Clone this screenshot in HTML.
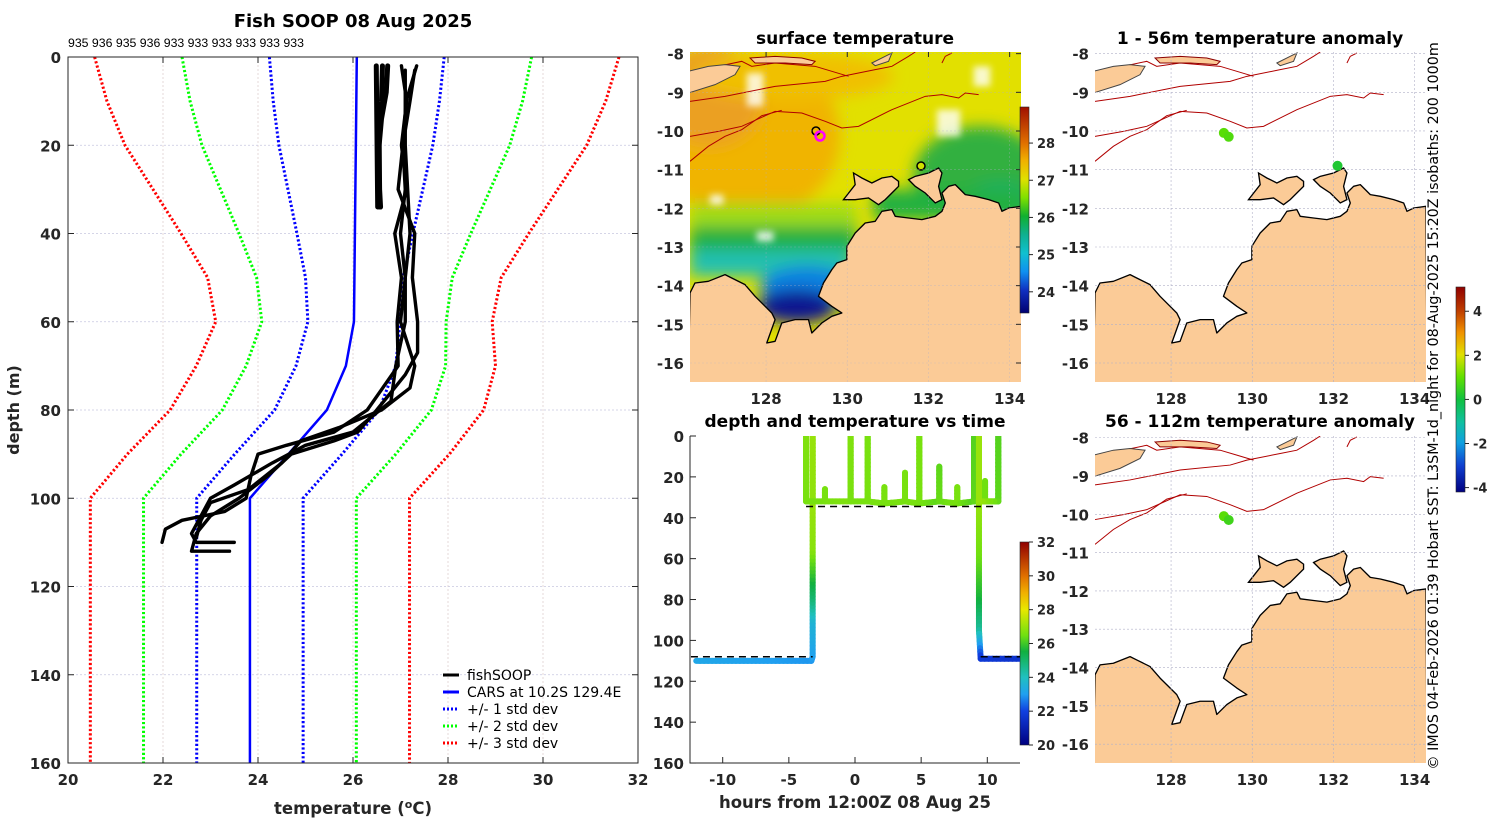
<!DOCTYPE html>
<html><head><meta charset="utf-8"><title>Fish SOOP 08 Aug 2025</title>
<style>
html,body{margin:0;padding:0;background:#fff;}
svg{display:block;font-family:"DejaVu Sans","Liberation Sans",sans-serif;}
.tk{font-size:15px;font-weight:bold;fill:#262626;}
.ttl{font-size:17px;font-weight:bold;fill:#000;}
.lg{font-size:14px;fill:#000;}
</style></head>
<body>
<svg id="fig" width="1500" height="820" viewBox="0 0 1500 820" xmlns="http://www.w3.org/2000/svg">
<defs>
 <filter id="blur" x="-20%" y="-20%" width="140%" height="140%"><feGaussianBlur stdDeviation="22"/></filter>
 <filter id="blur2" x="-20%" y="-20%" width="140%" height="140%"><feGaussianBlur stdDeviation="10"/></filter>
 <linearGradient id="cbSST" x1="0" y1="0" x2="0" y2="1">
  <stop offset="0" stop-color="#a01000"/><stop offset="0.175" stop-color="#e07000"/><stop offset="0.26" stop-color="#f0b000"/>
  <stop offset="0.35" stop-color="#e0e000"/><stop offset="0.44" stop-color="#80e000"/><stop offset="0.53" stop-color="#10b030"/>
  <stop offset="0.62" stop-color="#10b090"/><stop offset="0.71" stop-color="#10c0d0"/><stop offset="0.8" stop-color="#1090f0"/>
  <stop offset="0.89" stop-color="#1030c0"/><stop offset="1" stop-color="#000070"/>
 </linearGradient>
 <linearGradient id="cbT" x1="0" y1="0" x2="0" y2="1">
  <stop offset="0" stop-color="#900000"/><stop offset="0.167" stop-color="#e07000"/><stop offset="0.25" stop-color="#f0b000"/>
  <stop offset="0.333" stop-color="#e8e800"/><stop offset="0.46" stop-color="#70e010"/><stop offset="0.54" stop-color="#10b040"/>
  <stop offset="0.667" stop-color="#20c0c0"/><stop offset="0.75" stop-color="#20a0f0"/><stop offset="0.833" stop-color="#1040e0"/>
  <stop offset="1" stop-color="#000080"/>
 </linearGradient>
 <linearGradient id="cbA" x1="0" y1="0" x2="0" y2="1">
  <stop offset="0" stop-color="#900000"/><stop offset="0.12" stop-color="#c04000"/><stop offset="0.22" stop-color="#f09000"/>
  <stop offset="0.33" stop-color="#e0e000"/><stop offset="0.44" stop-color="#60e000"/><stop offset="0.55" stop-color="#10c040"/>
  <stop offset="0.66" stop-color="#10c0a0"/><stop offset="0.76" stop-color="#10a0e0"/><stop offset="0.87" stop-color="#1040d0"/>
  <stop offset="1" stop-color="#000080"/>
 </linearGradient>
 <clipPath id="clipL"><rect x="68" y="57" width="570" height="706"/></clipPath>
 <clipPath id="clipT"><rect x="690" y="436" width="330" height="327"/></clipPath>
 <clipPath id="mapclip"><rect x="45" y="67" width="992" height="990"/></clipPath>
 <g id="landShape">
  <path fill="#fbcb97" stroke="#000" stroke-width="4" stroke-linejoin="round" d="M45,790 L60,760 L100,755 L150,735 L170,745 L210,765 L240,800 L270,830 L290,850 L300,870 L275,940 L300,935 L320,880 L360,870 L400,870 L410,910 L440,880 L470,860 L500,850 L470,830 L430,800 L445,760 L470,720 L485,700 L515,690 L515,650 L540,610 L570,580 L600,575 L620,545 L650,540 L660,560 L700,565 L740,570 L780,560 L800,545 L810,520 L800,490 L820,470 L840,465 L870,495 L900,500 L940,510 L970,520 L980,545 L1000,535 L1037,530 L1040,1060 L40,1060 Z"/>
  <path fill="#fbcb97" stroke="#000" stroke-width="4" d="M505,510 L540,465 L535,430 L560,445 L590,460 L620,445 L650,440 L670,455 L670,470 L630,510 L610,525 L580,505 L540,510 Z"/>
  <path fill="#fbcb97" stroke="#000" stroke-width="4" d="M700,450 L720,440 L760,430 L790,415 L800,430 L790,470 L800,510 L780,520 L750,490 L720,470 Z"/>
  <path fill="#fbcb97" stroke="#444" stroke-width="3" d="M40,125 L100,110 L150,105 L195,110 L180,135 L120,165 L40,190 Z"/>
  <path fill="#fbcb97" stroke="#8b0000" stroke-width="3" d="M225,85 L300,80 L380,85 L420,95 L410,105 L330,100 L240,100 Z"/>
  <path fill="#fbcb97" stroke="#444" stroke-width="3" d="M590,100 L630,80 L650,70 L640,95 L600,108 Z"/>
 </g>
 <g id="isobaths" fill="none" stroke="#b00000" stroke-width="3">
  <path d="M45,215 L150,200 L300,170 L450,155 L500,140 L600,120 L650,110 L700,80 L720,67"/>
  <path d="M45,320 L130,305 L200,290 L300,245 L380,250 L450,275 L500,295 L550,290 L650,240 L750,200 L800,195 L850,205 L870,190 L910,195"/>
  <path d="M45,395 L100,350 L150,320 L200,300 L260,258 L320,242"/>
  <path d="M45,130 L120,112 L200,95 L230,110 L300,100 L420,110 L470,125 L520,140"/>
  <path d="M800,100 L810,80 L830,70"/>
 </g>
</defs>

<g id="leftPlot">
 <text class="ttl" x="353" y="27" text-anchor="middle" style="font-size:18px">Fish SOOP 08 Aug 2025</text>
 <text x="68" y="47" style="font-size:12.3px;font-family:'Liberation Sans',sans-serif" fill="#000">935 936 935 936 933 933 933 933 933 933</text>
 <g id="lGrid"></g>
 <g id="lSeries" clip-path="url(#clipL)"></g>
 <rect x="68" y="57" width="570" height="706" fill="none" stroke="#262626" stroke-width="1"/>
 <g id="lTicks"></g>
 <text class="tk" x="353" y="814" text-anchor="middle" style="font-size:16.5px">temperature (<tspan dy="-6" style="font-size:11px">o</tspan><tspan dy="6">C)</tspan></text>
 <text class="tk" transform="translate(19,410) rotate(-90)" text-anchor="middle" style="font-size:16px">depth (m)</text>
 <g>
  <line x1="443" y1="675" x2="459" y2="675" stroke="#000" stroke-width="3"/>
  <text class="lg" x="467" y="680">fishSOOP</text>
  <line x1="443" y1="692" x2="459" y2="692" stroke="#0000ff" stroke-width="3"/>
  <text class="lg" x="467" y="697">CARS at 10.2S 129.4E</text>
  <line x1="443" y1="709" x2="459" y2="709" stroke="#0000ff" stroke-width="3" stroke-dasharray="2,2"/>
  <text class="lg" x="467" y="714">+/- 1 std dev</text>
  <line x1="443" y1="726" x2="459" y2="726" stroke="#00ff00" stroke-width="3" stroke-dasharray="2,2"/>
  <text class="lg" x="467" y="731">+/- 2 std dev</text>
  <line x1="443" y1="743" x2="459" y2="743" stroke="#ff0000" stroke-width="3" stroke-dasharray="2,2"/>
  <text class="lg" x="467" y="748">+/- 3 std dev</text>
 </g>
</g>

<text class="ttl" x="855" y="44" text-anchor="middle">surface temperature</text>
<text class="ttl" x="1260" y="44" text-anchor="middle">1 - 56m temperature anomaly</text>
<text class="ttl" x="1260" y="427" text-anchor="middle">56 - 112m temperature anomaly</text>
<text class="ttl" x="855" y="427" text-anchor="middle">depth and temperature vs time</text>

<g id="mapSST">
 <g transform="translate(690,52) scale(0.3337,0.3333) translate(-45,-67)">
  <g clip-path="url(#mapclip)">
   <rect x="45" y="67" width="992" height="990" fill="#e2e000"/>
   <g filter="url(#blur)" transform="translate(-45,0)">
    <ellipse cx="260" cy="320" rx="280" ry="250" fill="#f0b400"/>
    <ellipse cx="150" cy="200" rx="160" ry="150" fill="#eba020"/>
    <ellipse cx="400" cy="140" rx="300" ry="70" fill="#f0c000"/>
    <ellipse cx="960" cy="440" rx="200" ry="150" fill="#30b040"/>
    <ellipse cx="1020" cy="520" rx="120" ry="60" fill="#10b070"/>
    <rect x="640" y="480" width="460" height="90" fill="#20b040"/>
    <rect x="90" y="520" width="500" height="90" fill="#a0dc18"/>
    <rect x="90" y="590" width="500" height="90" fill="#20b040"/>
    <rect x="90" y="660" width="480" height="80" fill="#20c0b0"/>
    <ellipse cx="440" cy="770" rx="140" ry="60" fill="#1080e0"/>
    <ellipse cx="410" cy="830" rx="120" ry="50" fill="#101890"/>
   </g>
   <g fill="#ffffff" filter="url(#blur2)" opacity="0.8" transform="translate(-45,0)">
    <rect x="260" y="130" width="50" height="100"/><rect x="830" y="240" width="70" height="80"/>
    <rect x="940" y="110" width="50" height="60"/><rect x="150" y="495" width="40" height="30"/>
    <rect x="290" y="605" width="50" height="30"/>
   </g>
   <use href="#isobaths"/>
   <use href="#landShape"/>
  </g>
 </g>
 <circle cx="816" cy="131" r="4" fill="none" stroke="#000" stroke-width="1.5"/>
 <circle cx="820" cy="136" r="4.5" fill="none" stroke="#ff00ff" stroke-width="2.5"/>
 <circle cx="921" cy="166" r="4" fill="#d0e000" stroke="#000" stroke-width="1.5"/>
</g>

<g id="mapA1">
 <g transform="translate(1095,52) scale(0.3337,0.3333) translate(-45,-67)">
  <g clip-path="url(#mapclip)">
   <rect x="45" y="67" width="992" height="990" fill="#fff"/>
   <use href="#isobaths"/>
   <use href="#landShape"/>
  </g>
 </g>
</g>
<g id="mapA2">
 <g transform="translate(1095,436) scale(0.3337,0.3303) translate(-45,-67)">
  <g clip-path="url(#mapclip)">
   <rect x="45" y="67" width="992" height="990" fill="#fff"/>
   <use href="#isobaths"/>
   <use href="#landShape"/>
  </g>
 </g>
</g>
<g id="mapOverlays"></g>

<rect x="1020" y="107" width="9" height="206" fill="url(#cbSST)" stroke="#262626" stroke-width="0.6"/>
<rect x="1020" y="542" width="9" height="203" fill="url(#cbT)" stroke="#262626" stroke-width="0.6"/>
<rect x="1456" y="287" width="9" height="205" fill="url(#cbA)" stroke="#262626" stroke-width="0.6"/>
<g id="cbTicks"></g>

<g id="tsPlot">
 <g id="tsSeries" clip-path="url(#clipT)"></g>
 <path d="M690,436 V763 H1020" fill="none" stroke="#262626" stroke-width="1"/>
 <g id="tsTicks"></g>
 <text class="tk" x="855" y="808" text-anchor="middle" style="font-size:16.5px">hours from 12:00Z 08 Aug 25</text>
</g>

<text transform="translate(1438,406) rotate(-90)" text-anchor="middle" style="font-size:14.3px" fill="#000">© IMOS 04-Feb-2026 01:39 Hobart SST: L3SM-1d_night for 08-Aug-2025 15:20Z isobaths: 200  1000m</text>
</svg>

<script>
const carsDepths = [0,10,20,30,40,50,60,70,80,90,100,160];
const carsMean   = [26.08,26.07,26.06,26.05,26.04,26.03,26.02,25.85,25.45,24.64,23.83,23.83];
const carsStd    = [1.84,1.75,1.62,1.42,1.22,1.03,0.97,1.05,1.1,1.13,1.12,1.12];
const stdMultipliers = [1,2,3];
const stdColors = ['#0000ff','#00ff00','#ff0000'];
const tempTicks = [20,22,24,26,28,30,32];
const depthTicks = [0,20,40,60,80,100,120,140,160];
const shallowDepths = [[2,34],[2,10,15,34],[2,8,14,20,30,34]];
const shallowTemps  = [[26.49,26.52],[26.62,26.6,26.55,26.55],[26.73,26.7,26.6,26.55,26.56,26.58]];
const deepDepths = [
 [2,10,20,30,40,50,60,70,80,85,88,90,95,100,103,105,107,110],
 [2,10,20,30,40,50,60,67,72,80,85,87,90,95,100,104,108,112,112],
 [3,10,20,30,40,50,60,70,78,85,88,92,97,100,104,108,110,110],
 [3,20,40,60,70,75,80,84,87,92,98,101,105,109]
];
const deepTemps = [
 [27.02,27.13,27.02,27.13,26.88,27.02,26.93,26.95,26.3,25.6,24.6,24.0,23.85,23.75,23.3,22.4,22.05,21.98],
 [27.34,27.12,27.05,26.95,27.3,27.25,27.36,27.36,27.1,26.5,26.1,25.6,24.7,24.2,23.6,23.0,22.7,22.6,23.4],
 [27.3,27.2,27.05,27.1,27.0,27.1,27.1,26.9,26.8,26.0,25.0,24.3,23.5,23.0,22.8,22.6,22.7,23.5],
 [27.1,27.1,27.2,27.0,27.3,27.2,26.6,25.7,24.9,24.5,23.8,23.0,22.8,22.7]
];
const trackHours = [-12,-3.3,-3.2,-3.2,-3.2,-3.2,-3.2,-3.2,-3.2,-3.2,-3.7,-3.7,-3.7,-2.27,-2.27,-2.27,-0.33,-0.33,-0.33,0.96,0.96,0.96,2.22,2.22,2.22,3.78,3.78,3.78,4.86,4.86,4.86,6.37,6.37,6.37,7.73,7.73,7.73,9.0,9.0,9.0,9.83,9.83,9.83,10.83,10.83,10.83,9.37,9.37,9.37,9.37,9.37,9.37,9.5,12.5];
const trackDepth = [110,110,108,90,80,70,55,32,0,32,32,0,32,32,26,32,32,0,32,32,0,32,33,25,33,32,18,32,33,0,33,32,15,32,33,25,33,32,0,32,32,22,32,32,0,32,32,0,32,60,80,95,109,109];
const trackTemp  = [23.2,22.9,23.0,23.6,24.8,25.6,26.8,27.0,27.0,26.9,26.7,26.7,26.6,26.6,26.6,26.6,26.7,26.7,26.6,26.6,26.6,26.6,26.6,26.6,26.6,26.6,26.6,26.6,26.6,26.6,26.6,26.3,26.3,26.4,26.6,26.6,26.6,26.2,26.2,26.3,26.5,26.5,26.5,26.2,26.2,26.3,27.0,27.0,27.0,26.5,25.6,24.5,21.8,21.6];
const dashedStartHours = [-12.4,-3.7,9.5];
const dashedEndHours   = [-3.2,10.8,12.5];
const dashedDepths     = [108,34.5,108];
const hourTicks = [-10,-5,0,5,10];
const lonTicks = [128,130,132,134];
const latTicks = [-8,-9,-10,-11,-12,-13,-14,-15,-16];
const anomLon1 = [129.3,129.42,132.1];
const anomLat1 = [-10.05,-10.15,-10.9];
const anomVal1 = [0.9,0.8,0.2];
const anomLon2 = [129.3,129.42];
const anomLat2 = [-10.05,-10.15];
const anomVal2 = [0.9,0.6];
const sstTicks = [24,25,26,27,28];
const tempCbTicks = [20,22,24,26,28,30,32];
const anomTicks = [-4,-2,0,2,4];

const NS='http://www.w3.org/2000/svg';
function mk(parent, tag, attrs){const e=document.createElementNS(NS,tag);for(const k in attrs)e.setAttribute(k,attrs[k]);parent.appendChild(e);return e;}
function txt(parent, x, y, s, anchor, cls){const t=mk(parent,'text',{x:x,y:y,'text-anchor':anchor,'class':cls||'tk'});t.textContent=s;return t;}

const xT = t => 68 + (t-20)*47.5;
const yD = d => 57 + d*4.4125;
const xH = h => 855 + h*13.23;
const yTD = d => 436 + d*2.044;

const lGrid=document.getElementById('lGrid'), lTicks=document.getElementById('lTicks'), lSer=document.getElementById('lSeries');
tempTicks.forEach(t=>{
 const g=mk(lGrid,'line',{x1:xT(t),x2:xT(t),y1:57,y2:763,stroke:'#d9c8c8','stroke-width':0.7,'stroke-dasharray':'2,2'});
 
 
 mk(lTicks,'line',{x1:xT(t),x2:xT(t),y1:763,y2:757,stroke:'#262626'});
 mk(lTicks,'line',{x1:xT(t),x2:xT(t),y1:57,y2:63,stroke:'#262626'});
 const l=txt(lTicks,xT(t),785,String(t),'middle');
 
 
});
depthTicks.forEach(d=>{
 const g=mk(lGrid,'line',{x1:68,x2:638,y1:yD(d),y2:yD(d),stroke:'#c8c8e0','stroke-width':0.7,'stroke-dasharray':'2,2'});
 
 
 mk(lTicks,'line',{x1:68,x2:74,y1:yD(d),y2:yD(d),stroke:'#262626'});
 mk(lTicks,'line',{x1:632,x2:638,y1:yD(d),y2:yD(d),stroke:'#262626'});
 const l=txt(lTicks,61,yD(d)+6,String(d),'end');
 
 
});
stdMultipliers.forEach((k,i)=>{
 [-1,1].forEach(sgn=>{
  const pts=carsDepths.map((d,j)=>xT(carsMean[j]+sgn*k*carsStd[j])+','+yD(d)).join(' ');
  const p=mk(lSer,'polyline',{points:pts,fill:'none',stroke:stdColors[i],'stroke-width':3,'stroke-dasharray':'2.2,2.2'});
  
  
 });
});
const mean=mk(lSer,'polyline',{points:carsDepths.map((d,j)=>xT(carsMean[j])+','+yD(d)).join(' '),fill:'none',stroke:'#0000ff','stroke-width':2.5});


shallowDepths.forEach((ds,i)=>{
 const p=mk(lSer,'polyline',{points:ds.map((d,j)=>xT(shallowTemps[i][j])+','+yD(d)).join(' '),fill:'none',stroke:'#000','stroke-width':5,'stroke-linejoin':'round','stroke-linecap':'round'});
 
 
});
deepDepths.forEach((ds,i)=>{
 const p=mk(lSer,'polyline',{points:ds.map((d,j)=>xT(deepTemps[i][j])+','+yD(d)).join(' '),fill:'none',stroke:'#000','stroke-width':3.4,'stroke-linejoin':'round','stroke-linecap':'round'});
 
 
});

function cmapT(t){
 const st=[[20,[0,0,128]],[22,[16,64,224]],[23,[32,160,240]],[24,[32,192,192]],[25.5,[16,176,64]],[26.5,[112,224,16]],[28,[232,232,0]],[29,[240,176,0]],[30,[224,112,0]],[32,[144,0,0]]];
 if(t<=st[0][0])return 'rgb('+st[0][1]+')';
 for(let i=1;i<st.length;i++){if(t<=st[i][0]){const f=(t-st[i-1][0])/(st[i][0]-st[i-1][0]);const c=st[i-1][1].map((v,k)=>Math.round(v+(st[i][1][k]-v)*f));return 'rgb('+c+')';}}
 return 'rgb('+st[st.length-1][1]+')';
}
const tsS=document.getElementById('tsSeries'), tsT=document.getElementById('tsTicks');
for(let i=1;i<trackHours.length;i++){
 const x0=xH(trackHours[i-1]),y0=yTD(trackDepth[i-1]),x1=xH(trackHours[i]),y1=yTD(trackDepth[i]);
 const len=Math.hypot(x1-x0,y1-y0);const n=Math.max(1,Math.ceil(len/4));
 for(let s=0;s<n;s++){
  const f0=s/n,f1=(s+1)/n,fm=(f0+f1)/2;
  const l=mk(tsS,'line',{x1:x0+(x1-x0)*f0,y1:y0+(y1-y0)*f0,x2:x0+(x1-x0)*f1,y2:y0+(y1-y0)*f1,stroke:cmapT(trackTemp[i-1]+(trackTemp[i]-trackTemp[i-1])*fm),'stroke-width':6,'stroke-linecap':'round'});
  
  
 }
}
dashedStartHours.forEach((h,i)=>{
 const l=mk(tsS,'line',{x1:xH(h),x2:xH(dashedEndHours[i]),y1:yTD(dashedDepths[i]),y2:yTD(dashedDepths[i]),stroke:'#000','stroke-width':1.5,'stroke-dasharray':'7,5'});
 
 
});
hourTicks.forEach(h=>{
 mk(tsT,'line',{x1:xH(h),x2:xH(h),y1:763,y2:757,stroke:'#262626'});
 const l=txt(tsT,xH(h),785,String(h),'middle');
 
 
});
depthTicks.forEach(d=>{
 mk(tsT,'line',{x1:690,x2:696,y1:yTD(d),y2:yTD(d),stroke:'#262626'});
 const l=txt(tsT,684,yTD(d)+6,String(d),'end');
 
 
});

const ov=document.getElementById('mapOverlays');
const maps=[{x:690,y:52,w:331,h:330,name:'sst'},{x:1095,y:52,w:331,h:330,name:'anom1'},{x:1095,y:436,w:331,h:327,name:'anom2'}];
function lonX(m,lon){return m.x+m.w*(0.2298+(lon-128)/6*0.7359);}
function latY(m,lat){return m.y+m.h*(0.005+(-8-lat)/8*0.9374);}
maps.forEach(m=>{
 lonTicks.forEach(lon=>{
  const g=mk(ov,'line',{x1:lonX(m,lon),x2:lonX(m,lon),y1:m.y,y2:m.y+m.h,stroke:'#b0b0c8','stroke-width':0.6,'stroke-dasharray':'2,2','opacity':m.name==='sst'?0.5:1});
  
  
  const l=txt(ov,lonX(m,lon),m.y+m.h+22,String(lon),'middle');
  
  
 });
 latTicks.forEach(lat=>{
  const g=mk(ov,'line',{x1:m.x,x2:m.x+m.w,y1:latY(m,lat),y2:latY(m,lat),stroke:'#b0b0c8','stroke-width':0.6,'stroke-dasharray':'2,2','opacity':m.name==='sst'?0.5:1});
  
  
  const l=txt(ov,m.x-6,latY(m,lat)+6,String(lat),'end');
  
  
 });
 if(m.name==='sst'){
  lonTicks.forEach(lon=>{mk(ov,'line',{x1:lonX(m,lon),x2:lonX(m,lon),y1:m.y,y2:m.y+5,stroke:'#262626'});});
  latTicks.forEach(lat=>{mk(ov,'line',{x1:m.x+m.w-5,x2:m.x+m.w,y1:latY(m,lat),y2:latY(m,lat),stroke:'#262626'});});
 }
});
function cmapA(v){
 const st=[[-4,[0,0,128]],[-2,[16,160,224]],[-1,[16,192,160]],[0,[16,192,64]],[1,[96,224,0]],[2,[224,224,0]],[3,[240,144,0]],[4,[192,64,0]],[5,[144,0,0]]];
 for(let i=1;i<st.length;i++){if(v<=st[i][0]){const f=Math.max(0,(v-st[i-1][0])/(st[i][0]-st[i-1][0]));const c=st[i-1][1].map((q,k)=>Math.round(q+(st[i][1][k]-q)*f));return 'rgb('+c+')';}}
 return 'rgb(144,0,0)';
}
anomLon1.forEach((lon,i)=>{
 const c=mk(ov,'circle',{cx:lonX(maps[1],lon),cy:latY(maps[1],anomLat1[i]),r:5,fill:cmapA(anomVal1[i])});
 
 
});
anomLon2.forEach((lon,i)=>{
 const c=mk(ov,'circle',{cx:lonX(maps[2],lon),cy:latY(maps[2],anomLat2[i]),r:5,fill:cmapA(anomVal2[i])});
 
 
});

const cb=document.getElementById('cbTicks');
function cbar(ticks, top, bot, vTop, vBot, x){
 ticks.forEach(v=>{
  const y=top+(vTop-v)/(vTop-vBot)*(bot-top);
  mk(cb,'line',{x1:x+9,x2:x+13,y1:y,y2:y,stroke:'#262626'});
  const l=txt(cb,x+17,y+5,String(v),'start');
  l.setAttribute('style','font-size:13px');
  
  
 });
}
cbar(sstTicks,107,313,28.97,23.43,1020);
cbar(tempCbTicks,542,745,32,20,1020);
cbar(anomTicks,287,492,5.1,-4.2,1456);
</script>
</body></html>
